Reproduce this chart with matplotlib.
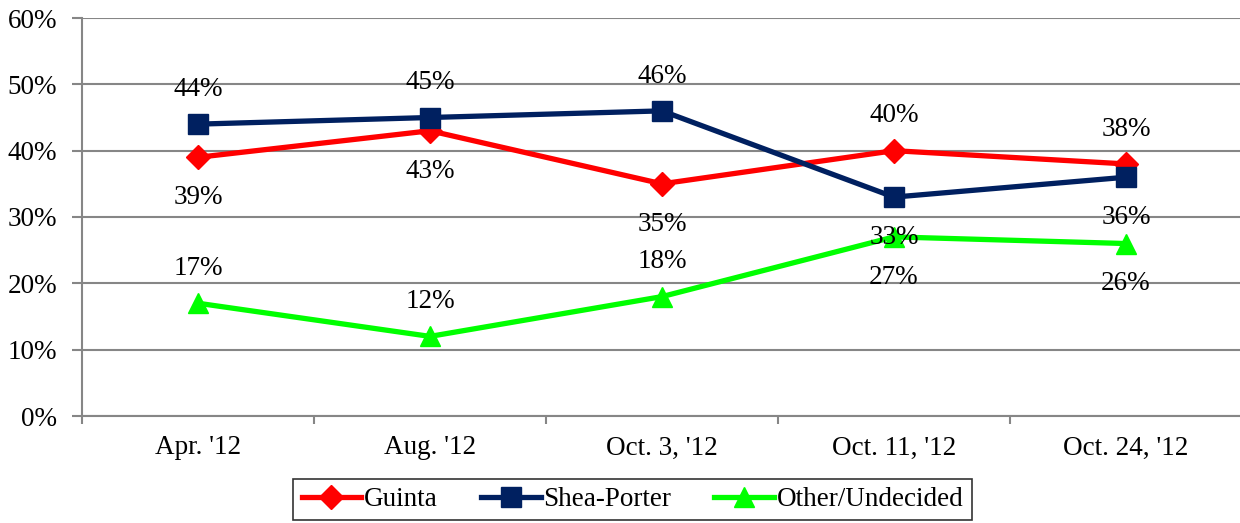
import matplotlib
matplotlib.use("Agg")
import matplotlib.pyplot as plt
import numpy as np

categories = ["Apr. '12", "Aug. '12", "Oct. 3, '12", "Oct. 11, '12", "Oct. 24, '12"]
guinta = [39, 43, 35, 40, 38]
shea_porter = [44, 45, 46, 33, 36]
other = [17, 12, 18, 27, 26]
yticks = [0, 10, 20, 30, 40, 50, 60]

# label placement: +1 above, -1 below
guinta_pos = [-1, -1, -1, 1, 1]
shea_pos = [1, 1, 1, -1, -1]
other_pos = [1, 1, 1, -1, -1]

plt.rcParams['font.family'] = ['Liberation Serif', 'DejaVu Serif']
FS = 19.5
grid_c = '#868686'

fig = plt.figure(figsize=(12.4, 5.23), dpi=100)
W, H = 1240, 523
ax = fig.add_axes([82 / W, 1 - 416 / H, 1160 / W, (416 - 18) / H])

x = np.arange(len(categories))
series = [
    ("Guinta", guinta, '#FF0000', 'D', 12.5, guinta_pos),
    ("Shea-Porter", shea_porter, '#002060', 's', 14.5, shea_pos),
    ("Other/Undecided", other, '#00FF00', '^', 14.5, other_pos),
]
for name, vals, col, mk, ms, pos in series:
    ax.plot(x, vals, color=col, lw=3.8, marker=mk, markersize=ms, label=name,
            zorder=3, clip_on=False)
    for xi, v, p in zip(x, vals, pos):
        ax.annotate(f"{v}%", (xi, v), xytext=(0, 27 * p - 2), textcoords='offset points',
                    ha='center', va='center', fontsize=FS, color='black', zorder=4)

ax.set_xlim(-0.5, len(categories) - 0.5)
ax.set_ylim(0, 60)
ax.set_yticks(yticks)
ax.set_yticklabels([f"{t}%" for t in yticks], fontsize=FS)
ax.yaxis.grid(True, color=grid_c, lw=1.5, zorder=0)
ax.set_axisbelow(True)
ax.set_xticks(x)
ax.set_xticklabels(categories, fontsize=FS)
ax.tick_params(axis='x', which='major', length=0, pad=14)
ax.set_xticks(np.arange(-0.5, len(categories) + 0.5, 1), minor=True)
ax.tick_params(axis='x', which='minor', length=6, color=grid_c, width=1.5, direction='out')
ax.tick_params(axis='y', length=7, color=grid_c, width=1.5, pad=11)
for s in ['top', 'right']:
    ax.spines[s].set_visible(False)
for s in ['left', 'bottom']:
    ax.spines[s].set_color(grid_c)
    ax.spines[s].set_linewidth(1.5)

leg = fig.legend(loc='center', bbox_to_anchor=(632.5 / W, 1 - 499.5 / H), ncol=3,
                 fontsize=FS, frameon=True, fancybox=False, edgecolor='black',
                 handlelength=2.2, handletextpad=0.1, columnspacing=1.6,
                 borderpad=0.3, borderaxespad=0)
leg.get_frame().set_linewidth(1.2)

fig.savefig("out.png", dpi=100)
